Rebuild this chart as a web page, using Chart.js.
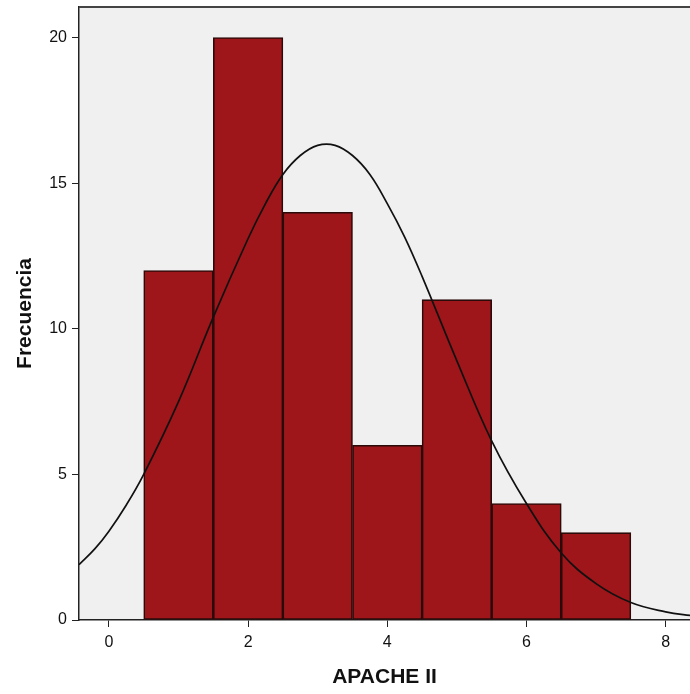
<!DOCTYPE html>
<html>
<head>
<meta charset="utf-8">
<script src="https://cdn.jsdelivr.net/npm/chart.js@4/dist/chart.umd.min.js"></script>
<style>
  html, body { margin: 0; padding: 0; background: #fff; overflow: hidden; }
  #wrap { width: 690px; height: 694px; }
</style>
</head>
<body>
<div id="wrap"><canvas id="histo"></canvas></div>
<script>
// histograma APACHE II con curva normal
const binCenters = [1, 2, 3, 4, 5, 6, 7];
const frecuencias = [12, 20, 14, 6, 11, 4, 3];

const curvaX = [-0.43, -0.2, 0, 0.25, 0.5, 1, 1.5, 2, 2.25, 2.5, 2.75, 3, 3.25, 3.5, 3.75, 4, 4.25, 4.5, 5, 5.5, 6, 6.5, 7, 7.5, 8, 8.4];
const curvaY = [1.9, 2.45, 3.05, 3.95, 5.0, 7.5, 10.4, 13.1, 14.3, 15.3, 15.95, 16.3, 16.3, 15.95, 15.3, 14.3, 13.15, 11.8, 8.9, 6.15, 4.0, 2.3, 1.25, 0.6, 0.28, 0.14];

const xTicks = [0, 2, 4, 6, 8];
const yTicks = [0, 5, 10, 15, 20];

const fuente = "'Liberation Sans', Arial, sans-serif";

// fondo gris y borde superior del area del grafico
const fondoPlot = {
  id: 'fondoPlot',
  beforeDraw(chart) {
    const a = chart.chartArea;
    const ctx = chart.ctx;
    ctx.save();
    ctx.fillStyle = '#f0f0f0';
    ctx.fillRect(a.left, a.top, a.right - a.left, a.bottom - a.top);
    ctx.restore();
  },
  afterDraw(chart) {
    const a = chart.chartArea;
    const ctx = chart.ctx;
    ctx.save();
    ctx.strokeStyle = '#444';
    ctx.lineWidth = 2;
    ctx.beginPath();
    ctx.moveTo(a.left, a.top);
    ctx.lineTo(a.right, a.top);
    ctx.stroke();
    ctx.restore();
  }
};

new Chart(document.getElementById('histo'), {
  type: 'bar',
  data: {
    datasets: [
      {
        type: 'line',
        data: curvaX.map((x, i) => ({ x: x, y: curvaY[i] })),
        borderColor: '#111',
        borderWidth: 1.7,
        pointRadius: 0,
        tension: 0.4,
        fill: false,
        order: 0
      },
      {
        type: 'bar',
        data: binCenters.map((x, i) => ({ x: x, y: frecuencias[i] })),
        backgroundColor: '#9e151a',
        borderColor: '#2b0a0a',
        borderWidth: 1.6,
        borderSkipped: false,
        barPercentage: 1,
        categoryPercentage: 1,
        order: 1
      }
    ]
  },
  options: {
    responsive: true,
    maintainAspectRatio: false,
    animation: false,
    layout: { padding: { top: 7, right: 0, left: 0, bottom: 0 } },
    plugins: {
      legend: { display: false },
      tooltip: { enabled: false }
    },
    scales: {
      x: {
        type: 'linear',
        min: -0.43,
        max: 8.35,
        offset: false,
        afterBuildTicks(scale) { scale.ticks = xTicks.map(v => ({ value: v })); },
        afterFit(scale) {
          scale.height = 74;
          scale.paddingLeft = 0;
          scale.paddingRight = 0;
        },
        grid: { display: true, drawOnChartArea: false, drawTicks: true, tickLength: 7, color: '#222', offset: false },
        border: { display: true, color: '#222', width: 1.5 },
        ticks: { color: '#111', padding: 6, font: { family: fuente, size: 16 } },
        title: {
          display: true,
          text: 'APACHE II',
          color: '#111',
          padding: { top: 0, bottom: 4 },
          font: { family: fuente, size: 21, weight: 'bold' }
        }
      },
      y: {
        min: 0,
        max: 21.05,
        afterBuildTicks(scale) { scale.ticks = yTicks.map(v => ({ value: v })); },
        afterFit(scale) {
          scale.width = 79;
          scale.paddingTop = 0;
          scale.paddingBottom = 0;
        },
        grid: { display: true, drawOnChartArea: false, drawTicks: true, tickLength: 7, color: '#222' },
        border: { display: true, color: '#222', width: 1.5 },
        ticks: { color: '#111', padding: 5, font: { family: fuente, size: 16 } },
        title: {
          display: true,
          text: 'Frecuencia',
          color: '#111',
          padding: { top: 13, bottom: 0 },
          font: { family: fuente, size: 21, weight: 'bold' }
        }
      }
    }
  },
  plugins: [fondoPlot]
});
</script>
</body>
</html>
